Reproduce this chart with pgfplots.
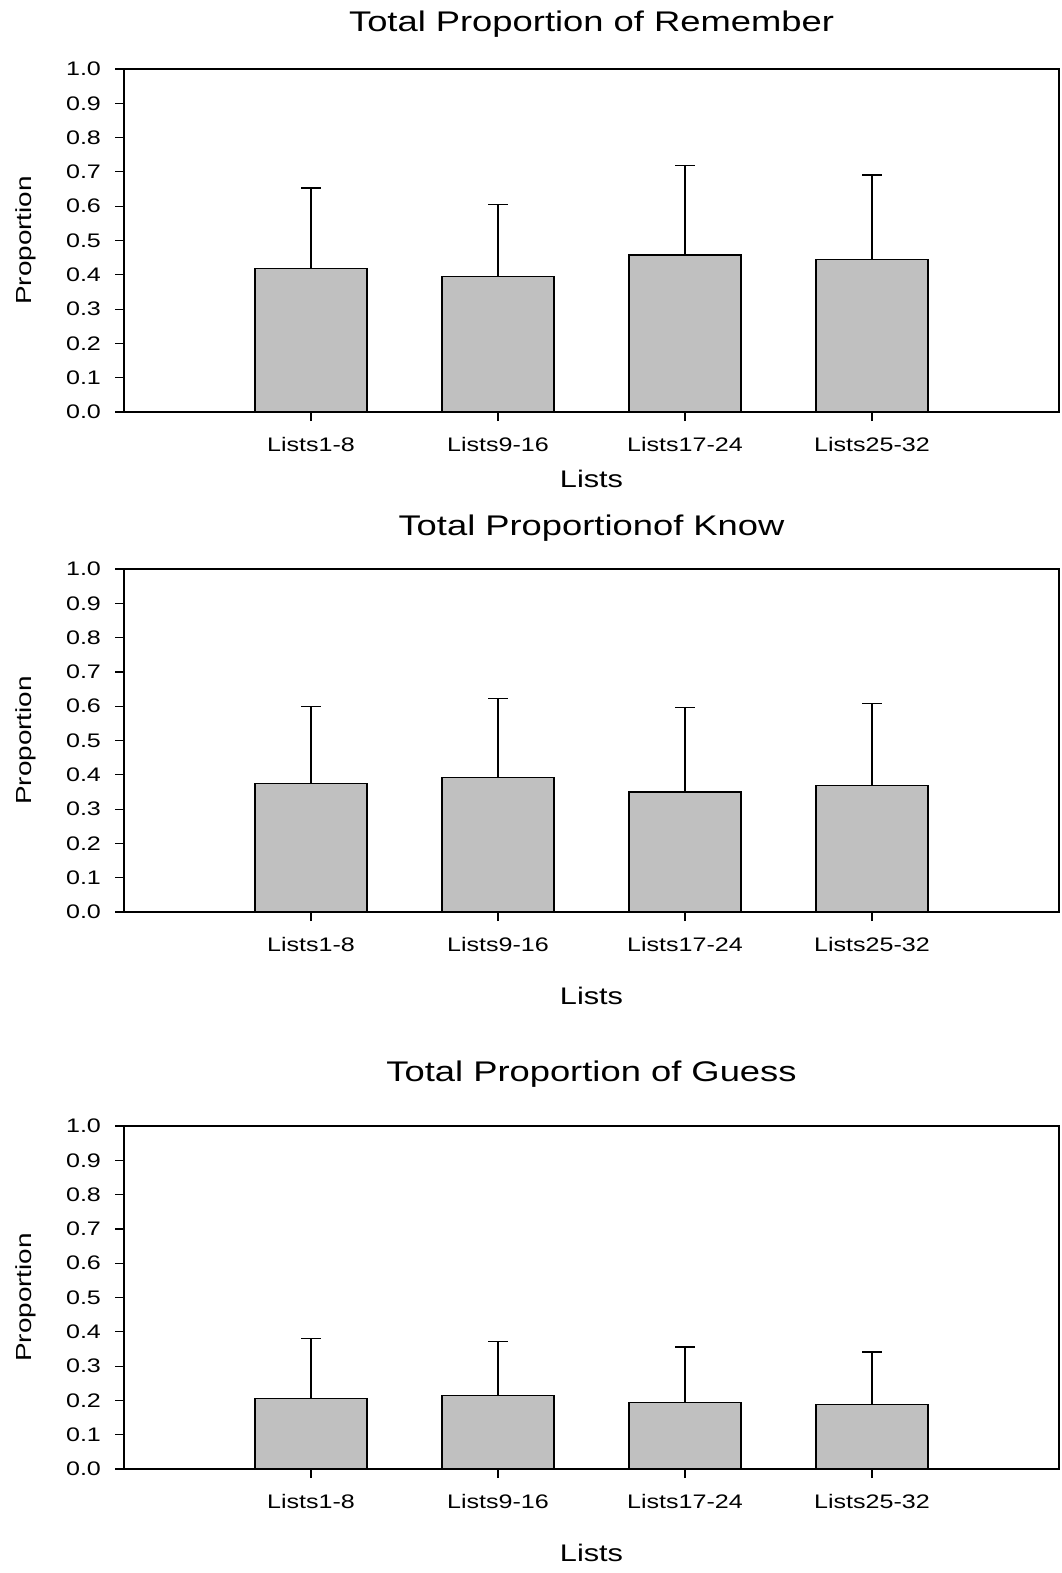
\documentclass[border=0pt]{standalone}
\usepackage{pgfplots}
\pgfplotsset{compat=1.18}
\usepackage{pgfplotstable}
\usepackage{fontspec}
\setmainfont{Liberation Sans}[FakeStretch=1.28]
\definecolor{bargray}{HTML}{C0C0C0}

\pgfplotstableread{
x y err
1 0.419 0.234
2 0.394 0.212
3 0.458 0.261
4 0.445 0.246
}\remember
\pgfplotstableread{
x y err
1 0.375 0.224
2 0.393 0.229
3 0.350 0.246
4 0.369 0.240
}\know
\pgfplotstableread{
x y err
1 0.206 0.174
2 0.214 0.158
3 0.193 0.163
4 0.187 0.154
}\guess

\pgfplotsset{
  panel/.style={
    scale only axis,
    width=467.5pt, height=171.5pt,
    anchor=north west,
    xmin=0, xmax=5, ymin=0, ymax=1,
    axis line style={line width=0.6pt},
    xtick={1,2,3,4},
    xticklabels={Lists1-8,Lists9-16,Lists17-24,Lists25-32},
    ytick={0,0.1,...,1.0},
    yticklabel style={xshift=-3.5pt, /pgf/number format/.cd, fixed, fixed zerofill, precision=1, assume math mode=true},
    tick align=outside, tick pos=left,
    major tick length=4.5pt,
    tick style={black, line width=0.6pt},
    ticklabel style={font=\fontsize{9.8}{11}\selectfont},
    xticklabel style={yshift=-4.8pt},
    ylabel={Proportion},
    xlabel={Lists},
    xlabel style={font=\fontsize{12}{14}\selectfont},
    ylabel style={font=\fontsize{10.9}{13}\selectfont},
    title style={font=\fontsize{14.2}{16}\selectfont, anchor=center, at={(0.5,1)}},
  },
  bars/.style={
    ybar, bar width=56pt, fill=bargray, draw=black, line width=0.6pt,
    error bars/.cd, y dir=plus, y explicit,
    error bar style={line width=0.6pt, black},
    error mark options={rotate=90, mark size=5pt, line width=0.6pt, black},
  },
}

\begin{document}
\begin{tikzpicture}
\useasboundingbox (0,0) rectangle (530.5pt,-786.5pt);

\begin{axis}[panel, at={(62pt,-34.5pt)},
  title={Total Proportion of Remember}, title style={yshift=16.5pt},
  xlabel style={at={(0.5,0)}, anchor=center, yshift=-33.5pt},
  ylabel style={at={(0,0.5)}, anchor=center, yshift=49pt}]
\addplot[bars] table[x=x, y=y, y error=err] {\remember};
\draw[line width=1.1pt] (axis cs:0,0) -- (axis cs:5,0);
\end{axis}

\begin{axis}[panel, at={(62pt,-284.5pt)},
  title={Total Proportionof Know}, title style={yshift=14.5pt},
  xlabel style={at={(0.5,0)}, anchor=center, yshift=-42pt},
  ylabel style={at={(0,0.5)}, anchor=center, yshift=49pt}]
\addplot[bars] table[x=x, y=y, y error=err] {\know};
\draw[line width=1.1pt] (axis cs:0,0) -- (axis cs:5,0);
\end{axis}

\begin{axis}[panel, at={(62pt,-563pt)},
  title={Total Proportion of Guess}, title style={yshift=20pt},
  xlabel style={at={(0.5,0)}, anchor=center, yshift=-42pt},
  ylabel style={at={(0,0.5)}, anchor=center, yshift=49pt}]
\addplot[bars] table[x=x, y=y, y error=err] {\guess};
\draw[line width=1.1pt] (axis cs:0,0) -- (axis cs:5,0);
\end{axis}
\end{tikzpicture}
\end{document}
